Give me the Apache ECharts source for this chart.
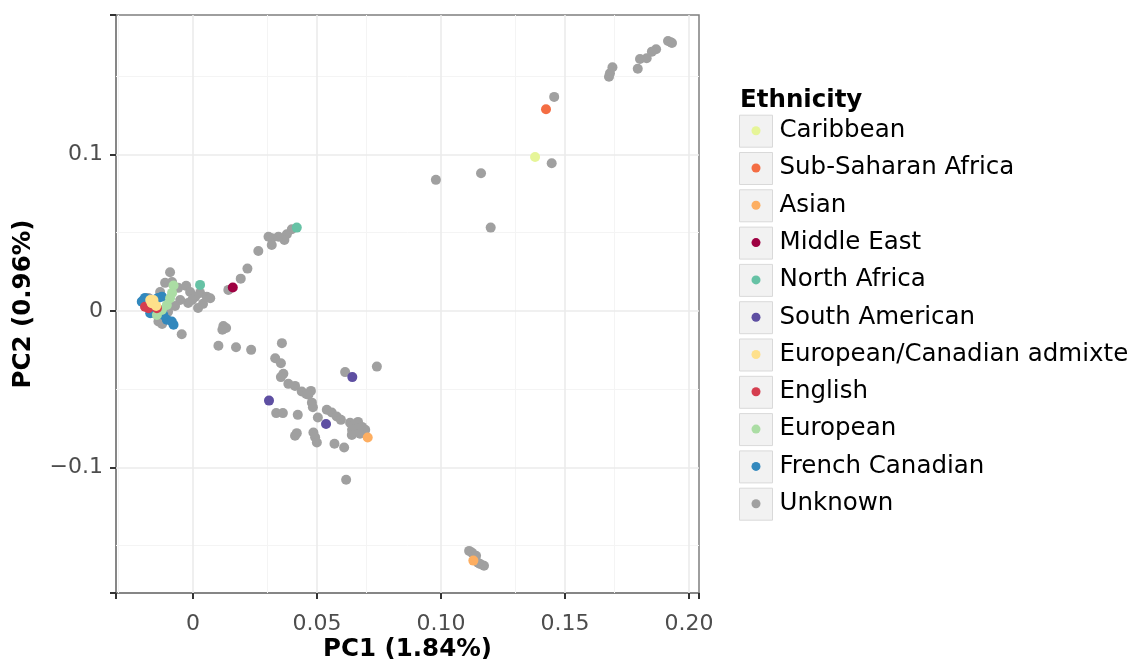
<!DOCTYPE html>
<html>
<head>
<meta charset="utf-8">
<script src="https://cdn.jsdelivr.net/npm/echarts@6/dist/echarts.min.js"></script>
<style>
html,body{margin:0;padding:0;background:#fff;}
#chart{width:1138px;height:659px;}
</style>
</head>
<body>
<div id="chart"></div>
<script>
// ---- data ----
const legendOrder = ['Caribbean','Sub-Saharan Africa','Asian','Middle East','North Africa','South American','European/Canadian admixte','English','European','French Canadian','Unknown'];

const unknown = [
  [0.1926,0.1716],[0.1915,0.1724],[0.1931,0.1711],[0.1867,0.1671],[0.1850,0.1656],[0.1829,0.1614],[0.1802,0.1609],
  [0.1793,0.1547],[0.1691,0.1556],[0.1681,0.1518],[0.1677,0.1496],[0.1456,0.1367],[0.1446,0.0943],[0.1161,0.0879],
  [0.0979,0.0837],[0.1200,0.0532],
  [0.1113,-0.1533],[0.1125,-0.1545],[0.1141,-0.1564],[0.1157,-0.1616],[0.1173,-0.1628],[0.1149,-0.1609],
  [0.0398,0.0522],[0.0378,0.0490],[0.0368,0.0453],[0.0344,0.0474],[0.0317,0.0464],[0.0304,0.0474],[0.0317,0.0421],
  [0.0263,0.0383],[0.0219,0.0270],[0.0192,0.0206],[0.0142,0.0134],
  [-0.0093,0.0247],[-0.0113,0.0179],[-0.0085,0.0185],[-0.0060,0.0147],[-0.0028,0.0160],[-0.0012,0.0121],[0.0008,0.0089],
  [0.0028,0.0115],[0.0055,0.0091],[0.0069,0.0081],[0.0040,0.0045],[0.0020,0.0019],[-0.0020,0.0051],[-0.0052,0.0070],
  [-0.0073,0.0032],[-0.0101,-0.0006],[-0.0133,-0.0026],[-0.0140,-0.0068],[-0.0125,-0.0083],[-0.0046,-0.0149],
  [-0.0161,-0.0013],[-0.0181,0.0083],[-0.0133,0.0121],[-0.0004,0.0070],
  [0.0122,-0.0096],[0.0118,-0.0121],[0.0133,-0.0109],[0.0102,-0.0223],[0.0173,-0.0232],[0.0234,-0.0249],[0.0358,-0.0206],
  [0.0331,-0.0302],[0.0354,-0.0334],[0.0364,-0.0402],[0.0354,-0.0423],[0.0384,-0.0466],[0.0411,-0.0479],[0.0438,-0.0515],
  [0.0456,-0.0530],[0.0475,-0.0511],[0.0465,-0.0536],[0.0613,-0.0391],[0.0741,-0.0356],[0.0479,-0.0586],[0.0483,-0.0615],
  [0.0335,-0.0653],[0.0362,-0.0653],[0.0422,-0.0664],[0.0503,-0.0681],[0.0539,-0.0632],[0.0559,-0.0649],[0.0579,-0.0675],
  [0.0596,-0.0696],[0.0633,-0.0715],[0.0653,-0.0728],[0.0665,-0.0709],[0.0681,-0.0741],[0.0694,-0.0760],[0.0665,-0.0766],
  [0.0641,-0.0760],[0.0640,-0.0792],[0.0673,-0.0785],[0.0418,-0.0781],[0.0411,-0.0798],[0.0485,-0.0777],[0.0492,-0.0807],
  [0.0499,-0.0841],[0.0570,-0.0849],[0.0609,-0.0873],[0.0617,-0.1079]
];
const caribbean = [[0.1379,0.0983]];
const subSaharan = [[0.1423,0.1288]];
const asian = [[0.0704,-0.0809],[0.1130,-0.1595]];
const middleEast = [[0.0160,0.0149]];
const northAfrica = [[0.0418,0.0532],[0.0028,0.0166]];
const southAmerican = [[0.0642,-0.0423],[0.0306,-0.0573],[0.0536,-0.0722]];
const euCanAdmix = [[-0.0167,0.0049],[-0.0160,0.0070],[-0.0149,0.0032],[-0.0173,0.0070]];
const english = [[-0.0194,0.0027],[-0.0180,0.0017],[-0.0146,0.0017]];
const european = [[-0.0079,0.0162],[-0.0093,0.0081],[-0.0106,0.0038],[-0.0126,0.0006],[-0.0146,-0.0026],[-0.0085,0.0115]];
const frenchCanadian = [[-0.0200,0.0070],[-0.0207,0.0059],[-0.0126,0.0091],[-0.0106,-0.0057],[-0.0079,-0.0089],
  [-0.0086,-0.0068],[-0.0120,-0.0026],[-0.0173,-0.0015],[-0.0194,0.0083],[-0.0141,0.0083]];

const xTickValues = [0, 0.05, 0.10, 0.15, 0.20];
const xTickLabels = ['0', '0.05', '0.10', '0.15', '0.20'];
const xMinorValues = [-0.025, 0.025, 0.075, 0.125, 0.175];
const yTickValues = [-0.1, 0, 0.1];
const yTickLabels = ['\u22120.1', '0', '0.1'];
const yMinorValues = [-0.15, -0.05, 0.05, 0.15];
const xRange = [-0.0311, 0.2040];
const yRange = [-0.1802, 0.1890];

// ---- chart ----
const FONT = 'DejaVu Sans';
const colors = {
  'Caribbean':'#E6F598','Sub-Saharan Africa':'#F46D43','Asian':'#FDAE61','Middle East':'#9E0142',
  'North Africa':'#66C2A5','South American':'#5E4FA2','European/Canadian admixte':'#FEE08B',
  'English':'#D53E4F','European':'#ABDDA4','French Canadian':'#3288BD','Unknown':'#A0A0A0'
};
const drawOrder = [
  ['Unknown', unknown], ['French Canadian', frenchCanadian], ['European', european], ['English', english],
  ['European/Canadian admixte', euCanAdmix], ['South American', southAmerican], ['North Africa', northAfrica],
  ['Middle East', middleEast], ['Asian', asian], ['Sub-Saharan Africa', subSaharan], ['Caribbean', caribbean]
];

const gridLines = [];
xMinorValues.forEach(v => gridLines.push({xAxis: v, lineStyle: {color: '#F4F4F4', width: 1, type: 'solid'}}));
yMinorValues.forEach(v => gridLines.push({yAxis: v, lineStyle: {color: '#F4F4F4', width: 1, type: 'solid'}}));
xTickValues.forEach(v => gridLines.push({xAxis: v, lineStyle: {color: '#EBEBEB', width: 1.6, type: 'solid'}}));
yTickValues.forEach(v => gridLines.push({yAxis: v, lineStyle: {color: '#EBEBEB', width: 1.6, type: 'solid'}}));

const series = drawOrder.map(([name, data], i) => ({
  name: name,
  type: 'scatter',
  data: data,
  symbol: 'circle',
  symbolSize: 10,
  z: 3,
  itemStyle: {color: colors[name], opacity: 1},
  emphasis: {disabled: true},
  markLine: i === 0 ? {
    silent: true, symbol: 'none', z: 1, animation: false,
    label: {show: false}, emphasis: {disabled: true},
    data: gridLines
  } : undefined
}));

const LEG_TOP = 114.7, LEG_STEP = 37.3, BOX = 32;
const boxes = legendOrder.map((n, i) => ({
  type: 'rect', id: 'box' + i, left: 739, top: LEG_TOP + i * LEG_STEP, z: 0, silent: true,
  shape: {width: 33, height: BOX},
  style: {fill: '#F2F2F2', stroke: '#D9D9D9', lineWidth: 1}
}));

const chart = echarts.init(document.getElementById('chart'), null, {renderer: 'canvas'});
chart.setOption({
  animation: false,
  backgroundColor: '#fff',
  textStyle: {fontFamily: FONT},
  title: {
    text: 'Ethnicity', left: 740, top: 88,
    padding: 0,
    textStyle: {fontFamily: FONT, fontSize: 24.5, fontWeight: 'bold', color: '#000'}
  },
  grid: {
    left: 116, top: 15, right: 439, bottom: 66, show: true,
    outerBoundsMode: 'none', containLabel: false,
    backgroundColor: '#fff', borderColor: '#7F7F7F', borderWidth: 1.5
  },
  xAxis: {
    type: 'value', min: xRange[0], max: xRange[1],
    name: 'PC1 (1.84%)', nameLocation: 'middle', nameGap: 44,
    nameMoveOverlap: false,
    nameTextStyle: {fontFamily: FONT, fontSize: 24.5, fontWeight: 'bold', color: '#000'},
    axisLine: {show: true, onZero: false, lineStyle: {color: '#7F7F7F', width: 1.5}},
    axisTick: {show: true, inside: false, length: 6, lineStyle: {color: '#333333', width: 2}},
    axisLabel: {
      show: true, margin: 20, customValues: xTickValues,
      fontFamily: FONT, fontSize: 22, color: '#4D4D4D',
      formatter: v => { const k = xTickValues.findIndex(t => Math.abs(t - v) < 1e-9); return k >= 0 ? xTickLabels[k] : ''; }
    },
    splitLine: {show: false}, minorSplitLine: {show: false}
  },
  yAxis: {
    type: 'value', min: yRange[0], max: yRange[1],
    name: 'PC2 (0.96%)', nameLocation: 'middle', nameGap: 80, nameRotate: 90,
    nameMoveOverlap: false,
    nameTextStyle: {fontFamily: FONT, fontSize: 24.5, fontWeight: 'bold', color: '#000'},
    axisLine: {show: true, onZero: false, lineStyle: {color: '#7F7F7F', width: 1.5}},
    axisTick: {show: true, inside: false, length: 6, lineStyle: {color: '#333333', width: 2}},
    axisLabel: {
      show: true, margin: 13, customValues: yTickValues,
      fontFamily: FONT, fontSize: 22, color: '#4D4D4D',
      formatter: v => { const k = yTickValues.findIndex(t => Math.abs(t - v) < 1e-9); return k >= 0 ? yTickLabels[k] : ''; }
    },
    splitLine: {show: false}, minorSplitLine: {show: false}
  },
  legend: {
    orient: 'vertical', left: 751.5, top: LEG_TOP, padding: 0,
    itemGap: LEG_STEP - BOX, itemWidth: 9, itemHeight: 9,
    icon: 'circle', data: legendOrder, selectedMode: false,
    textStyle: {fontFamily: FONT, fontSize: 24.5, color: '#000', lineHeight: BOX, padding: [0, 0, 0, 14]}
  },
  graphic: {elements: boxes},
  series: series
});
</script>
</body>
</html>
